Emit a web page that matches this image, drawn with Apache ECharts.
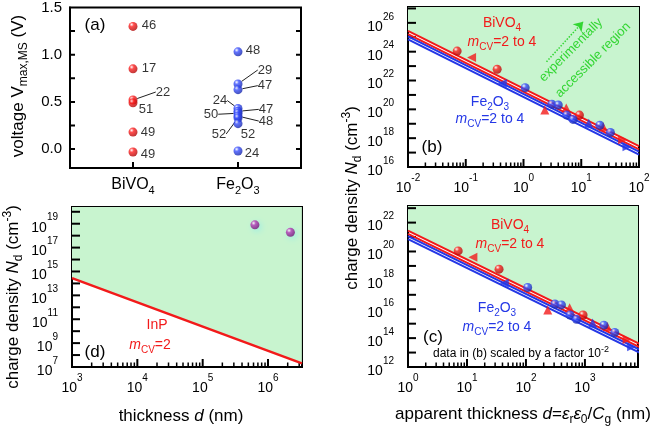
<!DOCTYPE html>
<html><head><meta charset="utf-8">
<script src="https://cdn.jsdelivr.net/npm/echarts@6/dist/echarts.min.js"></script>
<style>html,body{margin:0;padding:0;background:#fff}#c{width:661px;height:430px}</style>
</head><body><div id="c"></div>
<script>
// ---------------- data ----------------
// (a) voltage V_max,MS per material, with reference numbers
const aCategories = ['BiVO4', 'Fe2O3'];
const aBiVO4Voltage = [1.30, 0.85, 0.52, 0.49, 0.18, -0.03];
const aBiVO4Refs = ['46', '17', '22', '51', '49', '49'];
const aFe2O3Voltage = [1.03, 0.69, 0.63, 0.43, 0.40, 0.38, 0.35, 0.33, 0.27, -0.02];
const aFe2O3Refs = ['48', '29', '47', '24', '47', '50', '48', '52', '52', '24'];
const aYLabels = [0, 0.5, 1.0, 1.5];
const aYTicks = [0, 0.25, 0.5, 0.75, 1.0, 1.25];

// (b) apparent thickness d (nm) vs charge density Nd (cm^-3)
const bBiCircD = [0.071, 0.35, 9.3];
const bBiCircN = [1.1e24, 6.0e22, 4.0e19];
const bBiTriD = [0.126, 2.34, 5.5, 24, 52];
const bBiTriN = [4.0e23, 8.9e19, 1.26e20, 6.3e18, 7.9e17];
const bFeCircD = [1.07, 3.1, 4.0, 5.6, 7.2, 21, 32];
const bFeCircN = [3.2e21, 2.3e20, 2.0e20, 4.0e19, 2.0e19, 7.9e18, 2.5e18];
const bFeTriD = [0.43, 13.5, 62];
const bFeTriN = [6.3e21, 1.1e19, 2.5e17];
const bLineD = [0.01, 100];
const bBiVO4HiN = [2.8e25, 2.8e17];
const bBiVO4LoN = [1.66e25, 1.66e17];
const bFe2O3HiN = [1.15e25, 1.15e17];
const bFe2O3LoN = [7.1e24, 7.1e16];
const bArrowD = [2.5, 10.8];
const bArrowN = [2.0e23, 1.2e26];
const bXLabels = [-2, -1, 0, 1, 2];
const bYLabels = [16, 18, 20, 22, 24, 26];

// (c) same data as (b), scaled
const cScaleD = 100;
const cScaleN = 1e-4;
const cXLabels = [0, 1, 2, 3];
const cYLabels = [12, 14, 16, 18, 20, 22];

// (d) InP
const dInPD = [1e3, 3.3e6];
const dInPN = [2.8e14, 2.0e7];
const dPointD = [6.3e5, 2.2e6];
const dPointN = [8.0e18, 1.9e18];
const dXLabels = [3, 4, 5, 6];
const dYLabels = [7, 9, 11, 13, 15, 17, 19];

// ---------------- styling / layout ----------------
const FF = "'Liberation Sans', Arial, Helvetica, sans-serif";
const RED = '#f21a1a', BLUE = '#2437e6', GREEN_FILL = '#c8f4cf', GREEN_TXT = '#33d633';
const L = Math.log10;
const toLog = (ds, ns, sd = 1, sn = 1) => ds.map((d, i) => [L(d * sd), L(ns[i] * sn)]);
const range = (a, b) => { const r = []; for (let i = a; i <= b; i++) r.push(i); return r; };
function minorLog(lo, hi) {
  const r = [];
  for (let n = Math.floor(lo); n <= Math.ceil(hi); n++)
    for (let k = 2; k <= 9; k++) { const v = n + Math.log10(k); if (v > lo && v < hi) r.push(v); }
  return r;
}
const aBiVO4LabelOff = [[16, -1], [16, 0], [30, -8], [13, 7], [15, 0], [15, 2]];
const aBiVO4Leader = [false, false, true, false, false, false];
const aFe2O3LabelOff = [[15, -1], [27, -14], [27, -4], [-18, -8], [28, -2], [-27, 1], [28, 5], [-19, 16], [10, 11], [14, 2]];
const aFe2O3Leader = [false, true, true, true, true, true, true, true, false, false];
const bBiTriRot = [90, 0, 0, 0, -90];
const bFeTriRot = [90, 0, -90];

const ball = (c, dark) => ({ type: 'radial', x: 0.35, y: 0.3, r: 0.8,
  colorStops: [{ offset: 0, color: '#ffffff' }, { offset: 0.3, color: c }, { offset: 1, color: dark }] });
const RED_BALL = ball('#ff2020', '#a00000');
const BLUE_BALL = ball('#3a50ff', '#10209a');
const PURPLE_BALL = ball('#b83ab8', '#6a0a6a');

const subRich = s => s.split(/(\d+)/).filter(Boolean).map(t => /^\d+$/.test(t) ? '{sub|' + t + '}' : '{n|' + t + '}').join('');
const expLabel = v => { const n = Math.round(v); return '{b|10}{s|' + (n < 0 ? '-' : '') + Math.abs(n) + '}'; };
const expRich = {
  b: { fontSize: 14, fontFamily: FF, color: '#000', lineHeight: 22, verticalAlign: 'bottom' },
  s: { fontSize: 10, fontFamily: FF, color: '#000', lineHeight: 8, verticalAlign: 'top' }
};
const catRich = {
  n: { fontSize: 16, fontFamily: FF, color: '#000', lineHeight: 22, verticalAlign: 'middle' },
  sub: { fontSize: 11, fontFamily: FF, color: '#000', lineHeight: 10, verticalAlign: 'bottom' }
};
const AL = { show: true, onZero: false, lineStyle: { color: '#000', width: 2 } };
const NOTICK = { show: false };
const NOSPLIT = { show: false };

function gRich(color, fs) {
  const base = { fill: color, fontFamily: FF };
  return {
    n: Object.assign({ fontSize: fs, lineHeight: fs + 6, verticalAlign: 'middle' }, base),
    i: Object.assign({ fontSize: fs, lineHeight: fs + 6, verticalAlign: 'middle', fontStyle: 'italic' }, base),
    sub: Object.assign({ fontSize: Math.round(fs * 0.72), lineHeight: 10, verticalAlign: 'bottom' }, base),
    sup: Object.assign({ fontSize: Math.round(fs * 0.72), lineHeight: 8, verticalAlign: 'top' }, base)
  };
}
function T(x, y, text, color, fs, rot) {
  return { type: 'text', x, y, rotation: rot || 0, z: 100, silent: true,
    style: { text, rich: gRich(color, fs), align: 'center', verticalAlign: 'middle', fontFamily: FF, fontSize: fs, fill: color } };
}

// ---------------- axes ----------------
function expX(gi, min, max, labels) {
  return { gridIndex: gi, type: 'value', position: 'bottom', min, max, axisLine: AL, splitLine: NOSPLIT, axisTick: NOTICK,
    axisLabel: { customValues: labels, margin: 6, formatter: expLabel, rich: expRich } };
}
function expY(gi, min, max, labels) {
  return { gridIndex: gi, type: 'value', position: 'left', min, max, axisLine: AL, splitLine: NOSPLIT, axisTick: NOTICK,
    axisLabel: { customValues: labels, margin: 14, formatter: expLabel, rich: expRich } };
}
const xAxis = [
  { gridIndex: 0, type: 'value', position: 'bottom', min: 0.4, max: 2.6, axisLine: AL, splitLine: NOSPLIT, axisTick: NOTICK,
    axisLabel: { customValues: [1, 2], margin: 6, formatter: v => subRich(aCategories[Math.round(v) - 1]), rich: catRich } },
  expX(1, -2, 2, bXLabels),
  expX(2, 3, 6.52, dXLabels),
  expX(3, 0, 3.9, cXLabels)
];
const yAxis = [
  { gridIndex: 0, type: 'value', position: 'left', min: -0.2, max: 1.5, axisLine: AL, splitLine: NOSPLIT, axisTick: NOTICK,
    axisLabel: { customValues: aYLabels, margin: 8, formatter: v => v.toFixed(1), fontSize: 15, fontFamily: FF, color: '#000' } },
  expY(1, 16, 27.1, bYLabels),
  expY(2, 7, 20.4, dYLabels),
  expY(3, 12, 23.15, cYLabels)
];

const gridBase = { show: true, borderColor: '#000', borderWidth: 2, backgroundColor: 'rgba(0,0,0,0)', containLabel: false };
const grid = [
  Object.assign({ left: 70, top: 7, width: 231, height: 161 }, gridBase),
  Object.assign({ left: 408, top: 7, width: 231, height: 160 }, gridBase),
  Object.assign({ left: 72, top: 207, width: 230, height: 160 }, gridBase),
  Object.assign({ left: 408, top: 206, width: 230, height: 161 }, gridBase)
];

// ---------------- tick marks: one short two-point line per tick ----------------
const perPx = gi => [(xAxis[gi].max - xAxis[gi].min) / grid[gi].width, (yAxis[gi].max - yAxis[gi].min) / grid[gi].height];
function tickLine(gi, p0, p1, w) {
  return { type: 'line', xAxisIndex: gi, yAxisIndex: gi, z: 2, silent: true, symbol: 'none',
    data: [p0, p1], lineStyle: { color: '#000', width: w } };
}
function aTicks() {
  const [ux, uy] = perPx(0);
  const xmin = xAxis[0].min, xmax = xAxis[0].max, ymin = yAxis[0].min;
  const s = [];
  aYTicks.forEach(v => {
    s.push(tickLine(0, [xmin, v], [xmin + 5 * ux, v], 2));
    s.push(tickLine(0, [xmax - 5 * ux, v], [xmax, v], 2));
  });
  [1, 2].forEach(v => s.push(tickLine(0, [v, ymin], [v, ymin + 6 * uy], 2)));
  return s;
}
function logTicks(gi) {
  const [ux, uy] = perPx(gi);
  const xmin = xAxis[gi].min, xmax = xAxis[gi].max, ymin = yAxis[gi].min, ymax = yAxis[gi].max;
  const s = [];
  range(Math.ceil(xmin), Math.floor(xmax)).filter(v => v > xmin && v < xmax)
    .forEach(v => s.push(tickLine(gi, [v, ymin], [v, ymin + 8 * uy], 2)));
  minorLog(xmin, xmax).forEach(v => s.push(tickLine(gi, [v, ymin], [v, ymin + 4.5 * uy], 1.5)));
  range(Math.ceil(ymin), Math.floor(ymax)).filter(v => v > ymin && v < ymax)
    .forEach(v => s.push(tickLine(gi, [xmin, v], [xmin + 8 * ux, v], 2)));
  return s;
}

// ---------------- series ----------------
function panelA(values, refs, offs, leaders, color, catPos) {
  return {
    type: 'scatter', xAxisIndex: 0, yAxisIndex: 0, z: 4, symbolSize: 9,
    itemStyle: { color },
    data: values.map((v, i) => ({ value: [catPos, v], name: refs[i], labelLine: { show: leaders[i] } })),
    label: { show: true, position: 'inside', formatter: '{b}', color: '#000', fontSize: 13, fontFamily: FF },
    labelLine: { show: true, lineStyle: { color: '#222', width: 1 } },
    labelLayout: p => ({ dx: offs[p.dataIndex][0], dy: offs[p.dataIndex][1] })
  };
}

function bandPanel(ai, sd, sn, withArrow) {
  const s = [];
  const area = { type: 'line', xAxisIndex: ai, yAxisIndex: ai, z: 2, silent: true, symbol: 'none',
    data: toLog(bLineD, bBiVO4HiN, sd, sn), lineStyle: { width: 0 },
    areaStyle: { origin: 'end', color: GREEN_FILL, opacity: 1 } };
  if (withArrow) {
    const a = toLog(bArrowD, bArrowN, sd, sn);
    area.markLine = { silent: true, symbol: ['none', 'arrow'], symbolSize: 9, label: { show: false },
      lineStyle: { type: 'dotted', color: GREEN_TXT, width: 1.5 },
      data: [[{ coord: a[0] }, { coord: a[1] }]] };
  }
  s.push(area);
  [[bBiVO4HiN, RED], [bBiVO4LoN, RED], [bFe2O3HiN, BLUE], [bFe2O3LoN, BLUE]].forEach(([ns, c]) => {
    s.push({ type: 'line', xAxisIndex: ai, yAxisIndex: ai, z: 3, silent: true, symbol: 'none',
      data: toLog(bLineD, ns, sd, sn), lineStyle: { color: c, width: 2 } });
  });
  s.push({ type: 'scatter', xAxisIndex: ai, yAxisIndex: ai, z: 4, symbol: 'circle', symbolSize: 9,
    itemStyle: { color: RED_BALL }, data: toLog(bBiCircD, bBiCircN, sd, sn) });
  s.push({ type: 'scatter', xAxisIndex: ai, yAxisIndex: ai, z: 4, symbol: 'triangle', symbolSize: 9,
    symbolRotate: (v, p) => bBiTriRot[p.dataIndex], itemStyle: { color: RED }, data: toLog(bBiTriD, bBiTriN, sd, sn) });
  s.push({ type: 'scatter', xAxisIndex: ai, yAxisIndex: ai, z: 4, symbol: 'circle', symbolSize: 9,
    itemStyle: { color: BLUE_BALL }, data: toLog(bFeCircD, bFeCircN, sd, sn) });
  s.push({ type: 'scatter', xAxisIndex: ai, yAxisIndex: ai, z: 4, symbol: 'triangle', symbolSize: 9,
    symbolRotate: (v, p) => bFeTriRot[p.dataIndex], itemStyle: { color: BLUE }, data: toLog(bFeTriD, bFeTriN, sd, sn) });
  return s;
}

const series = [
  ...aTicks(),
  ...logTicks(1),
  ...logTicks(2),
  ...logTicks(3),
  panelA(aBiVO4Voltage, aBiVO4Refs, aBiVO4LabelOff, aBiVO4Leader, RED_BALL, 1),
  panelA(aFe2O3Voltage, aFe2O3Refs, aFe2O3LabelOff, aFe2O3Leader, BLUE_BALL, 2),
  ...bandPanel(1, 1, 1, true),
  ...bandPanel(3, cScaleD, cScaleN, false),
  { type: 'line', xAxisIndex: 2, yAxisIndex: 2, z: 2, silent: true, symbol: 'none',
    data: toLog(dInPD, dInPN), lineStyle: { color: RED, width: 2.5 },
    areaStyle: { origin: 'end', color: GREEN_FILL, opacity: 1 } },
  { type: 'scatter', xAxisIndex: 2, yAxisIndex: 2, z: 4, symbolSize: 9,
    itemStyle: { color: PURPLE_BALL, shadowColor: 'rgba(140,235,235,0.9)', shadowBlur: 6, shadowOffsetX: 2, shadowOffsetY: 2 },
    data: toLog(dPointD, dPointN) }
];

// ---------------- text annotations ----------------
const graphic = [
  T(95, 25, '{n|(a)}', '#000', 17),
  T(432, 147, '{n|(b)}', '#000', 17),
  T(433, 337, '{n|(c)}', '#000', 17),
  T(95, 352, '{n|(d)}', '#000', 17),
  T(502, 23, '{n|BiVO}{sub|4}', RED, 14),
  T(502, 42, '{i|m}{sub|CV}{n|=2 to 4}', RED, 14),
  T(490, 102, '{n|Fe}{sub|2}{n|O}{sub|3}', BLUE, 14),
  T(490, 119, '{i|m}{sub|CV}{n|=2 to 4}', BLUE, 14),
  T(571, 50, '{n|experimentally}', GREEN_TXT, 13, Math.PI / 4),
  T(593, 60, '{n|accessible region}', GREEN_TXT, 13, Math.PI / 4),
  T(510, 225, '{n|BiVO}{sub|4}', RED, 14),
  T(510, 244, '{i|m}{sub|CV}{n|=2 to 4}', RED, 14),
  T(497, 308, '{n|Fe}{sub|2}{n|O}{sub|3}', BLUE, 14),
  T(497, 327, '{i|m}{sub|CV}{n|=2 to 4}', BLUE, 14),
  T(521, 354, '{n|data in (b) scaled by a factor 10}{sup|-2}', '#000', 12),
  T(157, 325, '{n|InP}', RED, 14),
  T(150, 345, '{i|m}{sub|CV}{n|=2}', RED, 14),
  T(18, 86, '{n|voltage V}{sub|max,MS}{n| (V)}', '#000', 17, Math.PI / 2),
  T(13, 297, '{n|charge density }{i|N}{sub|d}{n| (cm}{sup|-3}{n|)}', '#000', 17, Math.PI / 2),
  T(352, 198, '{n|charge density }{i|N}{sub|d}{n| (cm}{sup|-3}{n|)}', '#000', 17, Math.PI / 2),
  T(181, 416, '{n|thickness }{i|d}{n| (nm)}', '#000', 17),
  T(523, 414, '{n|apparent thickness }{i|d}{n|=}{i|ε}{sub|r}{i|ε}{sub|0}{n|/}{i|C}{sub|g}{n| (nm)}', '#000', 17)
];

const chart = echarts.init(document.getElementById('c'), null, { renderer: 'canvas' });
chart.setOption({ animation: false, backgroundColor: '#fff', textStyle: { fontFamily: FF },
  grid, xAxis, yAxis, series, graphic });
</script>
</body></html>
